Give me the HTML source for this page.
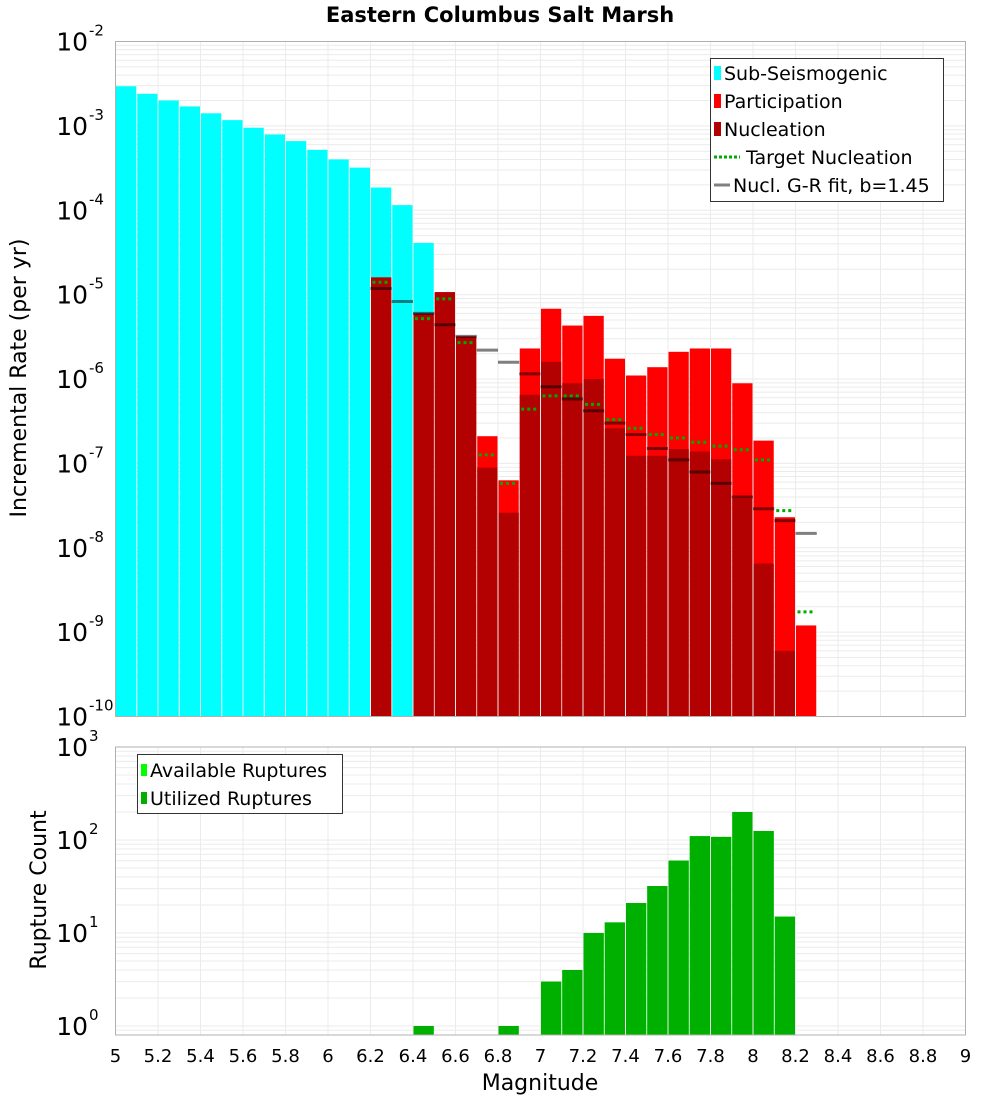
<!DOCTYPE html>
<html><head><meta charset="utf-8"><title>Eastern Columbus Salt Marsh</title>
<style>
body{margin:0;background:#fff;}
svg{display:block;font-family:"DejaVu Sans","Liberation Sans",sans-serif;}
</style></head>
<body>
<svg id="chart" width="1000" height="1100" viewBox="0 0 1000 1100" xmlns="http://www.w3.org/2000/svg">
<text x="500" y="22" text-anchor="middle" font-size="21" font-weight="bold">Eastern Columbus Salt Marsh</text>
<g id="topPlot"></g>
<g id="bottomPlot"></g>
<text transform="translate(26,378) rotate(-90)" text-anchor="middle" font-size="22">Incremental Rate (per yr)</text>
<text transform="translate(46,890) rotate(-90)" text-anchor="middle" font-size="22">Rupture Count</text>
<text x="540" y="1090" text-anchor="middle" font-size="22">Magnitude</text>
</svg>
<script>
// ---- data ----
const subSeisMags = [5.05,5.15,5.25,5.35,5.45,5.55,5.65,5.75,5.85,5.95,6.05,6.15,6.25,6.35,6.45];
const subSeisRates = [2.95e-3,2.4e-3,2.0e-3,1.7e-3,1.41e-3,1.17e-3,9.5e-4,7.9e-4,6.6e-4,5.2e-4,4.0e-4,3.2e-4,1.86e-4,1.15e-4,4.1e-5];
const faultMags = [6.25,6.35,6.45,6.55,6.65,6.75,6.85,6.95,7.05,7.15,7.25,7.35,7.45,7.55,7.65,7.75,7.85,7.95,8.05,8.15,8.25];
const participationRates = [1.6e-5,0,6.0e-6,1.07e-5,3.2e-6,2.1e-7,6.3e-8,2.3e-6,6.8e-6,4.3e-6,5.6e-6,1.74e-6,1.1e-6,1.38e-6,2.1e-6,2.3e-6,2.3e-6,8.9e-7,1.86e-7,2.3e-8,1.2e-9];
const nucleationRates = [1.6e-5,0,6.0e-6,1.07e-5,3.2e-6,8.9e-8,2.6e-8,6.5e-7,1.6e-6,8.9e-7,1.0e-6,2.6e-7,1.23e-7,1.23e-7,1.48e-7,1.38e-7,1.12e-7,3.8e-8,6.5e-9,6.0e-10,0];
const targetNucleation = [1.4e-5,0,5.2e-6,8.9e-6,2.7e-6,1.26e-7,5.8e-8,4.4e-7,6.3e-7,6.3e-7,5.0e-7,3.3e-7,2.6e-7,2.2e-7,2.0e-7,1.78e-7,1.6e-7,1.45e-7,1.1e-7,2.75e-8,1.74e-9];
const grFit = [1.18e-5,8.3e-6,6.0e-6,4.4e-6,3.2e-6,2.2e-6,1.58e-6,1.15e-6,8.1e-7,5.8e-7,4.2e-7,3.0e-7,2.2e-7,1.5e-7,1.1e-7,7.9e-8,5.8e-8,4.0e-8,2.9e-8,2.1e-8,1.48e-8];
const countMags = [6.45,6.85,7.05,7.15,7.25,7.35,7.45,7.55,7.65,7.75,7.85,7.95,8.05,8.15];
const availableCounts = [1,1,3,4,10,13,21,32,60,110,108,200,125,15];
const utilizedCounts = [1,1,3,4,10,13,21,32,60,110,108,200,125,15];
const xTicks = ["5","5.2","5.4","5.6","5.8","6","6.2","6.4","6.6","6.8","7","7.2","7.4","7.6","7.8","8","8.2","8.4","8.6","8.8","9"];

// ---- axes ----
const NS="http://www.w3.org/2000/svg";
const L=115.5,R=965.5;
const xS=m=>L+(m-5)/4*(R-L);
const T1=41.5,B1=716.5,yTop=v=>T1+(-2-Math.log10(v))/8*(B1-T1);
const T2=747,B2=1035,cMin=Math.log10(0.8),yBot=v=>T2+(3-Math.log10(v))/(3-cMin)*(B2-T2);
const BW=(R-L)/40;
function mk(parent,tag,attrs){const e=document.createElementNS(NS,tag);for(const k in attrs)e.setAttribute(k,attrs[k]);parent.appendChild(e);return e;}
const gTop=document.getElementById('topPlot'),gBot=document.getElementById('bottomPlot');

function grid(g,T,B,yf,dmin,dmax){
  for(let d=dmin;d<dmax;d++)for(let k=1;k<10;k++){const v=Math.pow(10,d)*k;const y=yf(v);if(y<T||y>B)continue;
    const ln=mk(g,'line',{x1:L,x2:R,y1:y,y2:y,stroke:'#ebebeb','stroke-width':1});
    
    }
  for(let i=1;i<20;i++){const x=xS(5+i*0.2);
    const ln=mk(g,'line',{x1:x,x2:x,y1:T,y2:B,stroke:'#ebebeb','stroke-width':1});
    
    }
}
function yLabels(g,yf,dmin,dmax){
  for(let d=dmin;d<=dmax;d++){const y=yf(Math.pow(10,d));
    const t=mk(g,'text',{x:88,y:y+9,'text-anchor':'end','font-size':25});
    
    
    t.textContent='10';
    const s=mk(g,'text',{x:89,y:y-6,'font-size':15});
    
    
    s.textContent=String(d);}
}
function bar(g,m,v,yf,B,fill,name){
  if(!(v>0))return;const y=Math.max(yf(v),0);
  const r=mk(g,'rect',{x:xS(m)-BW/2+0.5,y:y,width:BW-1,height:B-y,fill:fill});
  
  
}

// top plot
grid(gTop,T1,B1,yTop,-10,-2);
subSeisMags.forEach((m,i)=>bar(gTop,m,subSeisRates[i],yTop,B1,'#00ffff','sub-seismogenic-bar'));
faultMags.forEach((m,i)=>bar(gTop,m,participationRates[i],yTop,B1,'#ff0000','participation-bar'));
faultMags.forEach((m,i)=>bar(gTop,m,nucleationRates[i],yTop,B1,'#b30000','nucleation-bar'));
faultMags.forEach((m,i)=>{const v=grFit[i];if(!(v>0))return;const y=yTop(v);
  const l=mk(gTop,'line',{x1:xS(m)-BW/2,x2:xS(m)+BW/2,y1:y,y2:y,stroke:'rgba(0,0,0,0.5)','stroke-width':3});
  
  });
faultMags.forEach((m,i)=>{const v=targetNucleation[i];if(!(v>0))return;const y=yTop(v);
  const l=mk(gTop,'line',{x1:xS(m)-BW/2+2,x2:xS(m)+BW/2-2,y1:y,y2:y,stroke:'#00aa00','stroke-width':3,'stroke-dasharray':'3,3'});
  
  });
const f1=mk(gTop,'rect',{x:L,y:T1,width:R-L,height:B1-T1,fill:'none',stroke:'#b0b0b0'});


yLabels(gTop,yTop,-10,-2);

// legend top
const lg=mk(gTop,'g',{});


mk(lg,'rect',{x:710.5,y:58.5,width:233,height:143,fill:'#fff',stroke:'#333'});
const ents=[['Sub-Seismogenic','#00ffff','box'],['Participation','#ff0000','box'],['Nucleation','#b30000','box'],['Target Nucleation','#00aa00','dash'],['Nucl. G-R fit, b=1.45','#808080','line']];
ents.forEach((e,i)=>{const y=73+i*28;
  const eg=mk(lg,'g',{});
  
  
  if(e[2]==='box')mk(eg,'rect',{x:714,y:y-7,width:7,height:14,fill:e[1]});
  else if(e[2]==='dash')mk(eg,'line',{x1:714,x2:740,y1:y,y2:y,stroke:e[1],'stroke-width':3,'stroke-dasharray':'3,2'});
  else mk(eg,'line',{x1:714,x2:730,y1:y,y2:y,stroke:e[1],'stroke-width':3});
  const t=mk(eg,'text',{x:e[2]==='dash'?746:(e[2]==='line'?733:724),y:y+7,'font-size':19});t.textContent=e[0];});

// bottom plot
grid(gBot,T2,B2,yBot,-1,3);
countMags.forEach((m,i)=>bar(gBot,m,availableCounts[i],yBot,B2,'#00ff00','available-ruptures-bar'));
countMags.forEach((m,i)=>bar(gBot,m,utilizedCounts[i],yBot,B2,'#00b000','utilized-ruptures-bar'));
const f2=mk(gBot,'rect',{x:L,y:T2,width:R-L,height:B2-T2,fill:'none',stroke:'#b0b0b0'});


yLabels(gBot,yBot,0,3);
const lg2=mk(gBot,'g',{});


mk(lg2,'rect',{x:137.5,y:754.5,width:205,height:59,fill:'#fff',stroke:'#333'});
[['Available Ruptures','#00ff00'],['Utilized Ruptures','#00b000']].forEach((e,i)=>{const y=770+i*28;
  const eg=mk(lg2,'g',{});
  
  
  mk(eg,'rect',{x:141,y:y-6,width:6,height:12,fill:e[1]});
  const t=mk(eg,'text',{x:150,y:y+7,'font-size':19});t.textContent=e[0];});

// x tick labels
xTicks.forEach(s=>{const t=mk(gBot,'text',{x:xS(parseFloat(s)),y:1062,'text-anchor':'middle','font-size':18});
  
  
  t.textContent=s;});
</script>
</body></html>
